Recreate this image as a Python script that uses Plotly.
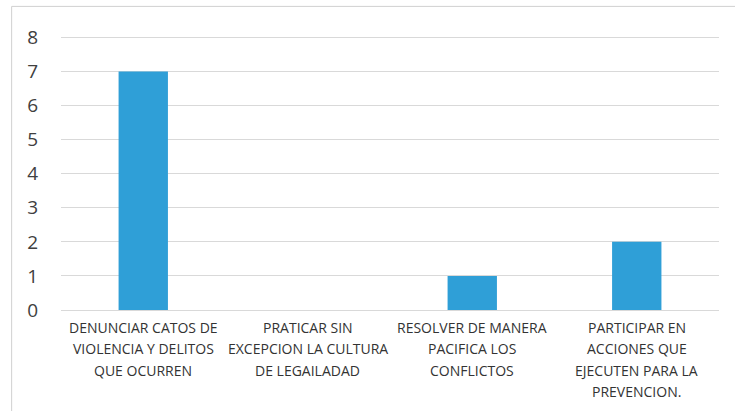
import plotly.graph_objects as go

category_lines = [
    ["DENUNCIAR CATOS DE", "VIOLENCIA Y DELITOS", "QUE OCURREN"],
    ["PRATICAR SIN", "EXCEPCION LA CULTURA", "DE LEGAILADAD"],
    ["RESOLVER DE MANERA", "PACIFICA LOS", "CONFLICTOS"],
    ["PARTICIPAR EN", "ACCIONES QUE", "EJECUTEN PARA LA", "PREVENCION."],
]
categories = [" ".join(lines) for lines in category_lines]
values = [7, 0, 1, 2]
y_ticks = [0, 1, 2, 3, 4, 5, 6, 7, 8]

fig = go.Figure(
    go.Bar(
        x=categories,
        y=values,
        marker=dict(color="#2f9fd7", line=dict(width=0)),
    )
)

# Category labels: one annotation per line to get the wider line spacing
LINE_STEP = 21.5
annotations = []
for cat, lines in zip(categories, category_lines):
    for i, text in enumerate(lines):
        annotations.append(
            dict(
                x=cat, y=0, xref="x", yref="y",
                text=text, showarrow=False,
                xanchor="center", yanchor="middle",
                yshift=-(17 + i * LINE_STEP),
                font=dict(size=14, color="#333333"),
            )
        )

fig.update_layout(
    width=735,
    height=411,
    margin=dict(l=61, r=16, t=34, b=101),
    paper_bgcolor="white",
    plot_bgcolor="white",
    bargap=0.7,
    showlegend=False,
    font=dict(family="Open Sans, Liberation Sans, sans-serif", color="#404040"),
    annotations=annotations,
    shapes=[
        dict(
            type="rect", xref="paper", yref="paper",
            x0=-0.075, x1=1.04, y0=-0.40, y1=1.10,
            line=dict(color="#d0d0d0", width=1),
        )
    ],
)

fig.update_xaxes(
    showgrid=False,
    showline=False,
    ticks="",
    showticklabels=False,
)

fig.update_yaxes(
    range=[0, 8.1],
    tickvals=y_ticks,
    showgrid=True,
    gridcolor="#d9d9d9",
    gridwidth=1,
    zeroline=True,
    zerolinecolor="#d9d9d9",
    zerolinewidth=1,
    showline=False,
    ticks="",
    ticklabelstandoff=22,
    tickfont=dict(size=19, color="#404040"),
)

fig.write_html("out.html")
